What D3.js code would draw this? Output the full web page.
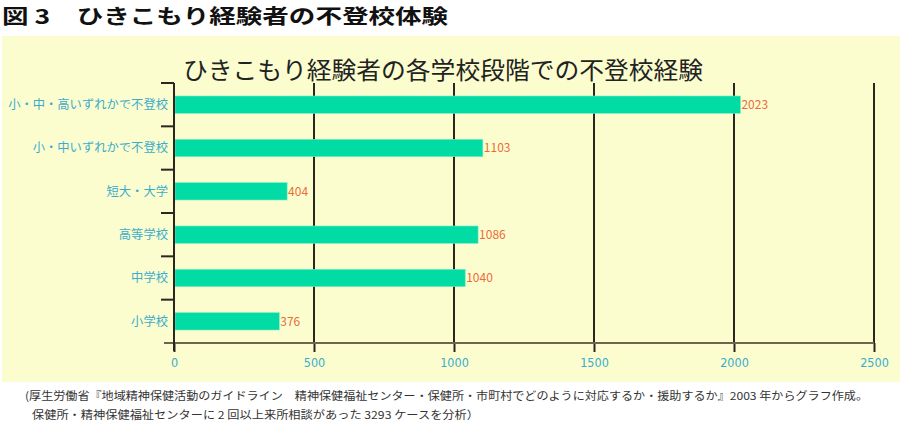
<!DOCTYPE html>
<html><head><meta charset="utf-8">
<script src="https://cdn.jsdelivr.net/npm/d3@7"></script>
<style>
html,body{margin:0;padding:0;background:#fff;}
svg{display:block;font-family:"Noto Sans CJK JP","Noto Sans",sans-serif;}
</style></head>
<body>
<svg id="chart" width="900" height="440"></svg>
<script>
const categories = ["小・中・高いずれかで不登校","小・中いずれかで不登校","短大・大学","高等学校","中学校","小学校"];
const values = [2023,1103,404,1086,1040,376];
const xTicks = [0,500,1000,1500,2000,2500];
const figTitle = "図 3　ひきこもり経験者の不登校体験";
const chartTitle = "ひきこもり経験者の各学校段階での不登校経験";
const notes = ["(厚生労働省『地域精神保健活動のガイドライン　精神保健福祉センター・保健所・市町村でどのように対応するか・援助するか』2003 年からグラフ作成。",
               "保健所・精神保健福祉センターに 2 回以上来所相談があった 3293 ケースを分析）"];

const svg = d3.select("#chart");
const pL = 174, pR = 874, pT = 83, pB = 343;

svg.append("text").attr("x",2).attr("y",24).attr("font-size",20).attr("font-weight","bold")
  .attr("fill","#111").attr("textLength",446).attr("lengthAdjust","spacingAndGlyphs").text(figTitle);

svg.append("rect").attr("x",2).attr("y",36).attr("width",898).attr("height",346).attr("fill","#fbfdcf");

svg.append("text").attr("x",443).attr("y",79).attr("text-anchor","middle").attr("font-size",24)
  .attr("fill","#222").attr("textLength",520).attr("lengthAdjust","spacingAndGlyphs").text(chartTitle);

const x = d3.scaleLinear().domain([0,2500]).range([pL,pR]);
const y = d3.scaleBand().domain(categories).range([pT,pB]).paddingInner(0.6).paddingOuter(0.3);

// gridlines
svg.append("g").selectAll("line").data(xTicks.filter(d=>d>0)).join("line")
  .attr("x1",d=>x(d)).attr("x2",d=>x(d)).attr("y1",pT).attr("y2",pB)
  .attr("stroke","#2b2620").attr("stroke-width",2);

// bars
svg.append("g").selectAll("rect").data(values).join("rect")
  .attr("x",x(0)+1).attr("y",(d,i)=>y(categories[i]))
  .attr("width",d=>x(d)-x(0)-1).attr("height",y.bandwidth())
  .attr("fill","#00dca3").attr("stroke","#7ce8c6").attr("stroke-width",0.6);

// value labels
svg.append("g").selectAll("text").data(values).join("text")
  .attr("x",d=>x(d)+1).attr("y",(d,i)=>y(categories[i])+y.bandwidth()/2)
  .attr("dy","0.36em").attr("font-size",12).attr("fill","#ec6b3a").text(d=>d);

// bottom axis
const xAxis = d3.axisBottom(x).tickValues(xTicks).tickSize(9).tickFormat(d3.format("d"));
const gx = svg.append("g").attr("transform",`translate(0,${pB})`).call(xAxis);
gx.select(".domain").remove();
gx.selectAll(".tick line").attr("stroke","#2b2620").attr("stroke-width",2);
gx.selectAll(".tick text").attr("fill","#3aaccc").attr("font-size",12.5).attr("dy","0.95em")
  .attr("font-family","'Liberation Sans Narrow','DejaVu Sans Condensed',sans-serif");
svg.append("line").attr("x1",164).attr("x2",pR).attr("y1",pB).attr("y2",pB)
  .attr("stroke","#6b6550").attr("stroke-width",2);

// left axis with ticks between categories
svg.append("line").attr("x1",pL).attr("x2",pL).attr("y1",pT).attr("y2",pB+8)
  .attr("stroke","#2b2620").attr("stroke-width",2);
const boundaries = d3.range(categories.length).map(i=>pT + i*(pB-pT)/categories.length);
svg.append("g").selectAll("line").data(boundaries).join("line")
  .attr("x1",161).attr("x2",pL).attr("y1",d=>d).attr("y2",d=>d)
  .attr("stroke","#2b2620").attr("stroke-width",2);

// category labels
svg.append("g").selectAll("text").data(categories).join("text")
  .attr("x",168).attr("y",d=>y(d)+y.bandwidth()/2).attr("dy","0.36em")
  .attr("text-anchor","end").attr("font-size",12.3).attr("fill","#3aaccc").text(d=>d);

// notes
svg.append("g").selectAll("text").data(notes).join("text")
  .attr("x",(d,i)=>i===0?25:32).attr("y",(d,i)=>400+i*19).attr("font-size",11).attr("fill","#333")
  .attr("textLength",(d,i)=>i===0?843:447).attr("lengthAdjust","spacingAndGlyphs")
  .text(d=>d);
</script>
</body></html>
